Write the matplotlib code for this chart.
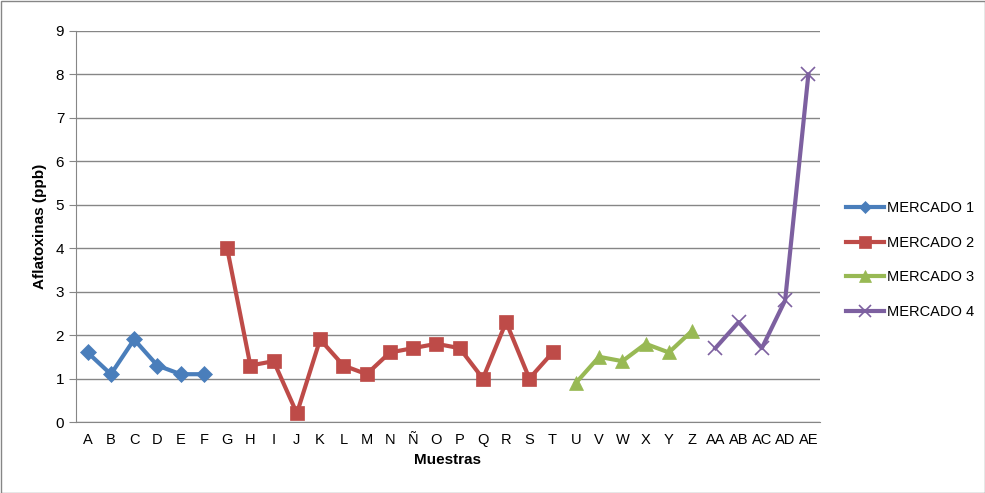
import numpy as np
import matplotlib
matplotlib.use("Agg")
import matplotlib.pyplot as plt
from matplotlib import font_manager

names = [f.name for f in font_manager.fontManager.ttflist]
fam = "Liberation Sans Narrow" if "Liberation Sans Narrow" in names else "Liberation Sans"
plt.rcParams['font.family'] = [fam, 'DejaVu Sans']

categories = ["A","B","C","D","E","F","G","H","I","J","K","L","M","N","Ñ","O","P","Q","R","S","T",
              "U","V","W","X","Y","Z","AA","AB","AC","AD","AE"]
m1_cats = categories[0:6]
m1_vals = [1.6, 1.1, 1.9, 1.3, 1.1, 1.1]
m2_cats = categories[6:21]
m2_vals = [4.0, 1.3, 1.4, 0.2, 1.9, 1.3, 1.1, 1.6, 1.7, 1.8, 1.7, 1.0, 2.3, 1.0, 1.6]
m3_cats = categories[21:27]
m3_vals = [0.9, 1.5, 1.4, 1.8, 1.6, 2.1]
m4_cats = categories[27:32]
m4_vals = [1.7, 2.3, 1.7, 2.8, 8.0]

fig = plt.figure(figsize=(9.85, 4.93), dpi=100)
ax = fig.add_axes([76/985, 1-422/493, (820-76)/985, (422-31)/493])

idx = {c: i for i, c in enumerate(categories)}
series = [
    ("MERCADO 1", m1_cats, m1_vals, "#4A7EBB", "D", 8),
    ("MERCADO 2", m2_cats, m2_vals, "#BE4B48", "s", 10),
    ("MERCADO 3", m3_cats, m3_vals, "#98B954", "^", 10),
    ("MERCADO 4", m4_cats, m4_vals, "#7D60A0", "x", 10),
]
for name, cats, vals, col, mk, ms in series:
    xs = [idx[c] for c in cats]
    ax.plot(xs, vals, color=col, lw=3, marker=mk, markersize=ms,
            markeredgewidth=1.2 if mk == "x" else 0.5, markeredgecolor=col,
            markerfacecolor=col, label=name, zorder=3)

ax.set_xlim(-0.5, len(categories) - 0.5)
ax.set_ylim(0, 9)
ax.set_yticks(range(0, 10))
ax.set_xticks(range(len(categories)))
ax.set_xticklabels(categories, fontsize=10.5)
ax.tick_params(axis='y', labelsize=11, length=5, color='#868686', direction='out')
ax.tick_params(axis='x', length=0, pad=8)
ax.grid(axis='y', color='#868686', lw=1)
ax.set_axisbelow(True)
for s in ['top', 'right']:
    ax.spines[s].set_visible(False)
for s in ['left', 'bottom']:
    ax.spines[s].set_color('#868686')
ax.set_xlabel("Muestras", fontsize=11, fontweight='bold', labelpad=4)
ax.set_ylabel("Aflatoxinas (ppb)", fontsize=11, fontweight='bold', labelpad=6)

leg = fig.legend(loc='center left', bbox_to_anchor=(846/985, 1-260/493), frameon=False,
                 fontsize=10.5, handlelength=2.6, labelspacing=1.4, handletextpad=0.2,
                 borderpad=0, borderaxespad=0, markerscale=0.8)

fig.patches.append(matplotlib.patches.Rectangle((0.5/985, 0.5/493), 1-1/985, 1-1/493,
                   transform=fig.transFigure, fill=False, edgecolor='#868686', lw=1))
fig.savefig("out.png", dpi=100)
